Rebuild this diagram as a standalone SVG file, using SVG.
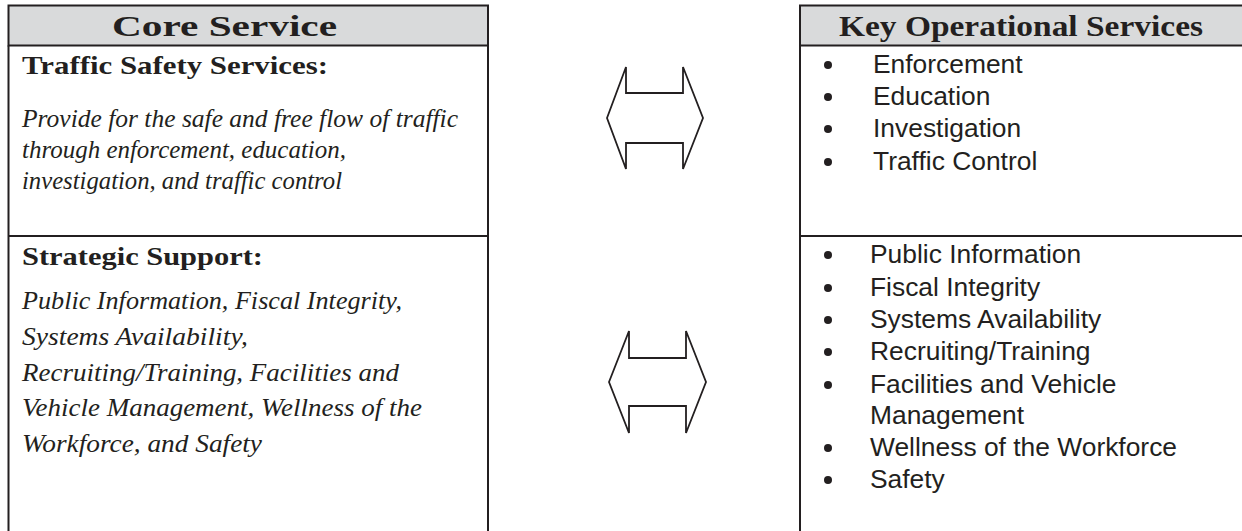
<svg xmlns="http://www.w3.org/2000/svg" width="1242" height="531" viewBox="0 0 1242 531">
  <style>
    .frame { fill: none; stroke: #231f20; stroke-width: 2; }
    .head { fill: #d9dadb; stroke: #231f20; stroke-width: 2; }
    .rule { stroke: #231f20; stroke-width: 2; }
    .title { font-family: "Liberation Serif", "DejaVu Serif", serif; font-weight: bold; font-size: 30px; fill: #231f20; }
    .sub { font-family: "Liberation Serif", "DejaVu Serif", serif; font-weight: bold; font-size: 26px; fill: #231f20; }
    .desc { font-family: "Liberation Serif", "DejaVu Serif", serif; font-style: italic; font-size: 25px; fill: #231f20; }
    .item { font-family: "Liberation Sans", Arial, sans-serif; font-size: 26.4px; fill: #231f20; }
    .dot { fill: #231f20; }
    .arrow { fill: none; stroke: #231f20; stroke-width: 1.8; stroke-linejoin: miter; }
  </style>

  <!-- Left column: core services -->
  <g id="core-service">
    <rect class="head" x="8.5" y="5.5" width="479.5" height="40"/>
    <line class="rule" x1="8.5" y1="45.5" x2="8.5" y2="540"/>
    <line class="rule" x1="488" y1="45.5" x2="488" y2="540"/>
    <line class="rule" x1="8.5" y1="236" x2="488" y2="236"/>
    <text class="title" x="224.5" y="36" text-anchor="middle" textLength="225" lengthAdjust="spacingAndGlyphs">Core Service</text>
  </g>

  <g id="traffic-safety">
    <text class="sub" x="22" y="74" textLength="306" lengthAdjust="spacingAndGlyphs">Traffic Safety Services:</text>
    <text class="desc" x="22" y="127" textLength="436" lengthAdjust="spacingAndGlyphs">Provide for the safe and free flow of traffic</text>
    <text class="desc" x="22" y="158" textLength="324" lengthAdjust="spacingAndGlyphs">through enforcement, education,</text>
    <text class="desc" x="22" y="189" textLength="320" lengthAdjust="spacingAndGlyphs">investigation, and traffic control</text>
  </g>

  <g id="strategic-support">
    <text class="sub" x="22" y="265" textLength="241" lengthAdjust="spacingAndGlyphs">Strategic Support:</text>
    <text class="desc" x="22" y="309" textLength="380" lengthAdjust="spacingAndGlyphs">Public Information, Fiscal Integrity,</text>
    <text class="desc" x="22" y="345" textLength="226" lengthAdjust="spacingAndGlyphs">Systems Availability,</text>
    <text class="desc" x="22" y="381" textLength="377" lengthAdjust="spacingAndGlyphs">Recruiting/Training, Facilities and</text>
    <text class="desc" x="22" y="416" textLength="400" lengthAdjust="spacingAndGlyphs">Vehicle Management, Wellness of the</text>
    <text class="desc" x="22" y="452" textLength="240" lengthAdjust="spacingAndGlyphs">Workforce, and Safety</text>
  </g>

  <!-- Right column: key operational services -->
  <g id="key-operational-services">
    <rect class="head" x="800" y="5.5" width="450" height="40"/>
    <line class="rule" x1="800" y1="45.5" x2="800" y2="540"/>
    <line class="rule" x1="800" y1="236" x2="1250" y2="236"/>
    <text class="title" x="1021" y="36" text-anchor="middle" textLength="364" lengthAdjust="spacingAndGlyphs">Key Operational Services</text>
  </g>

  <g id="traffic-services-list">
    <circle class="dot" cx="828" cy="65" r="4"/>
    <text class="item" x="873" y="73">Enforcement</text>
    <circle class="dot" cx="828" cy="97" r="4"/>
    <text class="item" x="873" y="105">Education</text>
    <circle class="dot" cx="828" cy="129" r="4"/>
    <text class="item" x="873" y="137">Investigation</text>
    <circle class="dot" cx="828" cy="162" r="4"/>
    <text class="item" x="873" y="170">Traffic Control</text>
  </g>

  <g id="support-services-list">
    <circle class="dot" cx="828" cy="255" r="4"/>
    <text class="item" x="870" y="263">Public Information</text>
    <circle class="dot" cx="828" cy="288" r="4"/>
    <text class="item" x="870" y="296">Fiscal Integrity</text>
    <circle class="dot" cx="828" cy="320" r="4"/>
    <text class="item" x="870" y="328">Systems Availability</text>
    <circle class="dot" cx="828" cy="352" r="4"/>
    <text class="item" x="870" y="360">Recruiting/Training</text>
    <circle class="dot" cx="828" cy="385" r="4"/>
    <text class="item" x="870" y="393">Facilities and Vehicle</text>
    <text class="item" x="870" y="424">Management</text>
    <circle class="dot" cx="828" cy="448" r="4"/>
    <text class="item" x="870" y="456">Wellness of the Workforce</text>
    <circle class="dot" cx="828" cy="480" r="4"/>
    <text class="item" x="870" y="488">Safety</text>
  </g>

  <!-- Double-headed block arrows linking the rows -->
  <g id="connectors">
    <polygon class="arrow" points="607,118 626,67 626,93 683,93 683,67 703,118 683,169 683,143 626,143 626,169"/>
    <polygon class="arrow" points="609,382 629,331 629,358 686,358 686,331 706,382 686,433 686,406 629,406 629,433"/>
  </g>
</svg>
